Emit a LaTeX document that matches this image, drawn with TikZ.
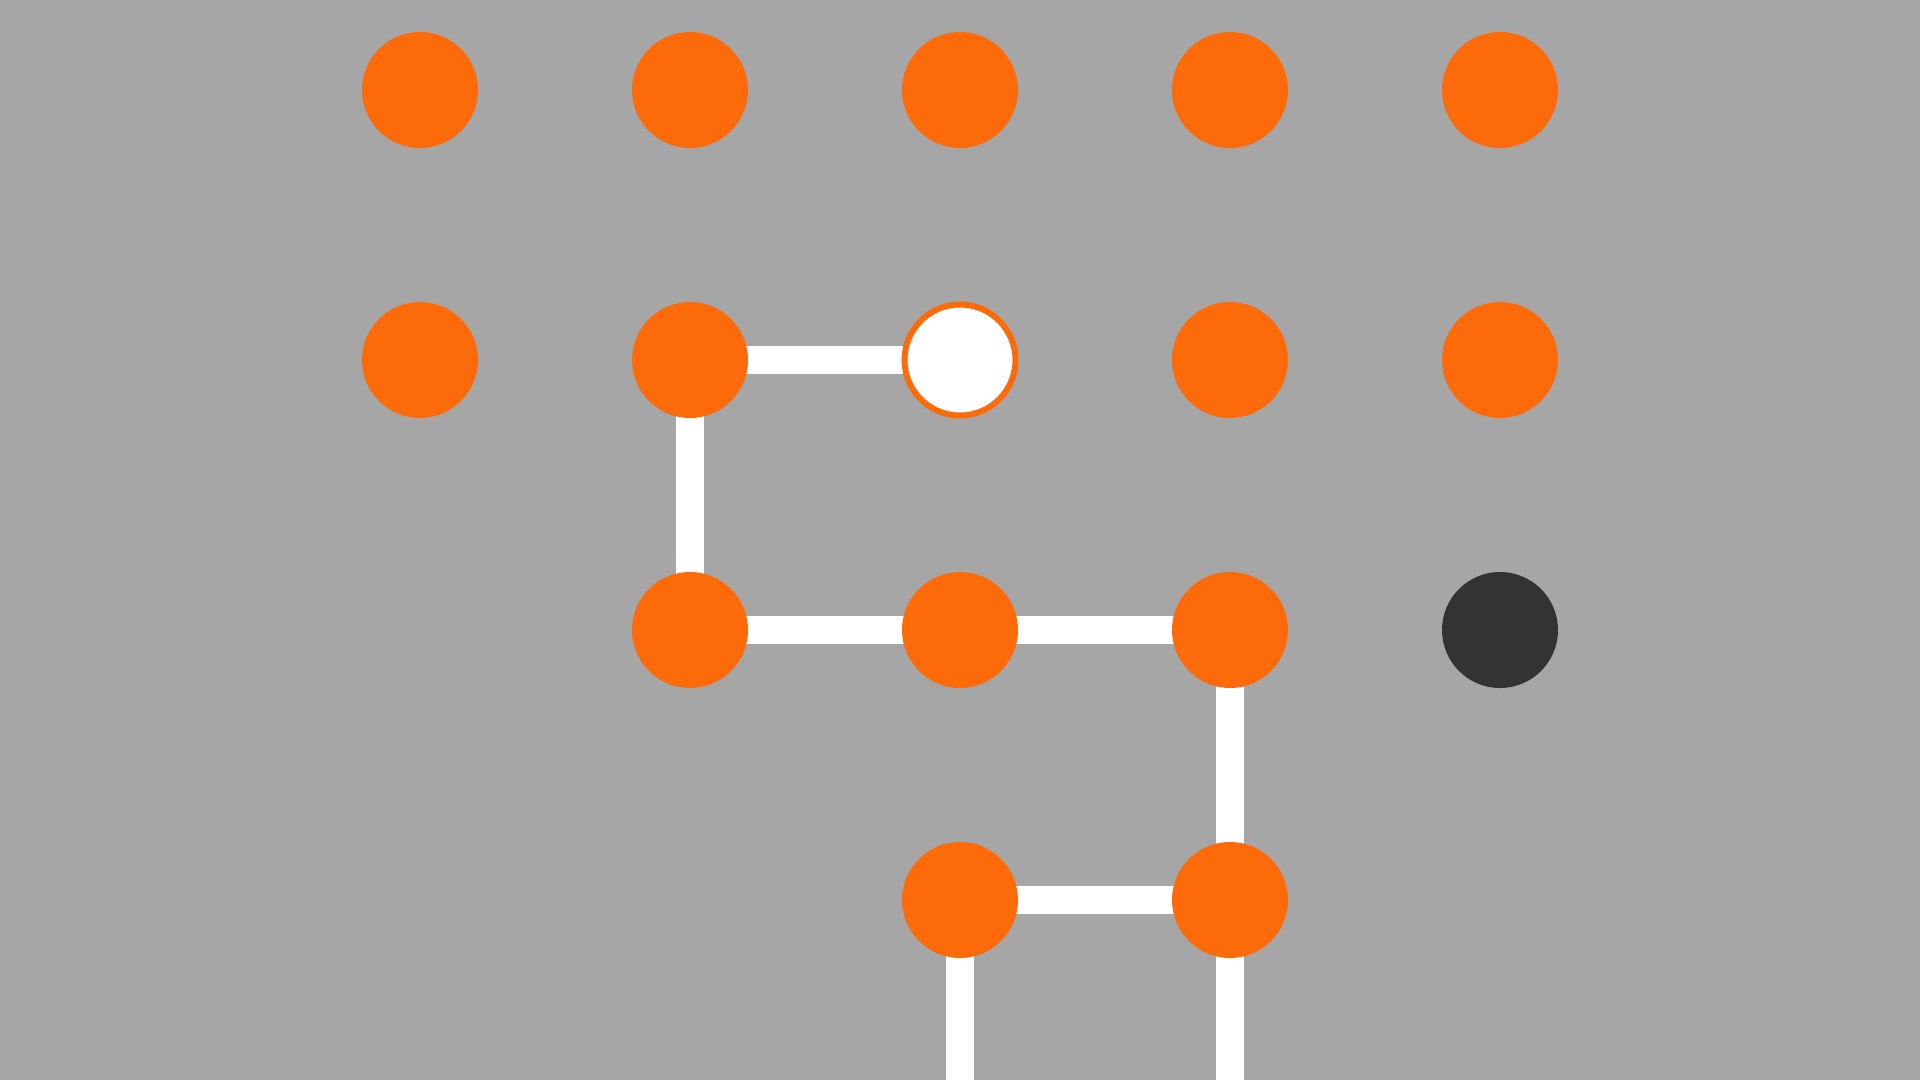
\documentclass[tikz,border=0pt]{standalone}
\definecolor{bggray}{HTML}{A6A6A6}
\definecolor{dotorange}{HTML}{FC6A0A}
\definecolor{dotdark}{HTML}{333333}
\tikzset{
  dot/.style={circle, inner sep=0pt, minimum size=116pt, fill=dotorange, draw=none},
  darkdot/.style={dot, fill=dotdark},
  currentdot/.style={circle, inner sep=0pt, minimum size=111pt, fill=white, draw=dotorange, line width=6pt},
  trail/.style={draw=white, line width=28pt, line cap=butt, line join=miter}
}
\begin{document}
\begin{tikzpicture}[x=1pt,y=-1pt]
\fill[bggray] (0,0) rectangle (1920,1080);
\useasboundingbox (0,0) rectangle (1920,1080);
% coordinates of grid
\foreach \c/\x in {1/420,2/690,3/960,4/1230,5/1500}{
  \foreach \r/\y in {1/90,2/360,3/630,4/900}{
    \coordinate (p\c\r) at (\x,\y);
  }
}
\coordinate (e3) at (960,1080);
\coordinate (e4) at (1230,1080);
% trail
\draw[trail] (p32) -- (p22) -- (p23) -- (p33) -- (p43) -- (p44) -- (p34) -- (e3);
\draw[trail] (p44) -- (e4);
% nodes
\node[dot] (n11) at (p11) {};
\node[dot] (n21) at (p21) {};
\node[dot] (n31) at (p31) {};
\node[dot] (n41) at (p41) {};
\node[dot] (n51) at (p51) {};
\node[dot] (n12) at (p12) {};
\node[dot] (n22) at (p22) {};
\node[currentdot] (n32) at (p32) {};
\node[dot] (n42) at (p42) {};
\node[dot] (n52) at (p52) {};
\node[dot] (n23) at (p23) {};
\node[dot] (n33) at (p33) {};
\node[dot] (n43) at (p43) {};
\node[darkdot] (n53) at (p53) {};
\node[dot] (n34) at (p34) {};
\node[dot] (n44) at (p44) {};
\end{tikzpicture}
\end{document}
